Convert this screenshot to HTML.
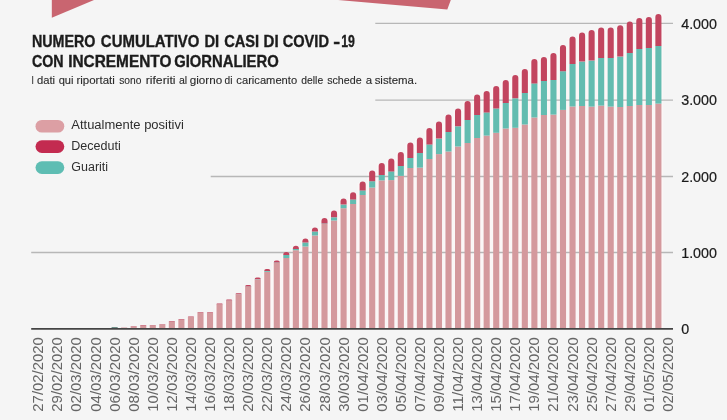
<!DOCTYPE html>
<html lang="it"><head><meta charset="utf-8"><title>Numero cumulativo di casi di COVID-19</title>
<style>
html,body{margin:0;padding:0;background:#f5f5f5;}
body{width:727px;height:420px;overflow:hidden;font-family:"Liberation Sans",sans-serif;}
svg{display:block;overflow:visible;filter:blur(0.3px);}
.t{font-family:"Liberation Sans",sans-serif;font-weight:bold;fill:#1c1c1c;stroke:#1c1c1c;stroke-width:0.35px;}
.s{font-family:"Liberation Sans",sans-serif;fill:#2b2b2b;stroke:#2b2b2b;stroke-width:0.12px;}
.l{font-family:"Liberation Sans",sans-serif;fill:#2e2e2e;}
.y{font-family:"Liberation Sans",sans-serif;fill:#1a1a1a;font-size:14.3px;stroke:#1a1a1a;stroke-width:0.2px;}
.x{font-family:"Liberation Sans",sans-serif;fill:#666;font-size:15.5px;}
</style></head><body>
<svg width="727" height="420" viewBox="0 0 727 420">
<rect x="-10" y="-10" width="747" height="440" fill="#f5f5f5"/>

<polygon points="51.8,-6 51.8,17.8 94,0 108.2,-6" fill="#c96570"/>
<polygon points="268.2,-6 338,0 447.3,9.4 450.8,0 453,-6" fill="#c96570"/>
<rect x="128.85" y="327.50" width="9.70" height="1.50" fill="#fbf7f7"/>
<rect x="138.39" y="326.60" width="9.70" height="2.40" fill="#fbf7f7"/>
<rect x="147.93" y="326.40" width="9.70" height="2.60" fill="#fbf7f7"/>
<rect x="157.47" y="325.50" width="9.70" height="3.50" fill="#fbf7f7"/>
<rect x="167.01" y="322.50" width="9.70" height="6.50" fill="#fbf7f7"/>
<rect x="176.55" y="320.50" width="9.70" height="8.50" fill="#fbf7f7"/>
<rect x="186.09" y="318.10" width="9.70" height="10.90" fill="#fbf7f7"/>
<rect x="195.63" y="313.50" width="9.70" height="15.50" fill="#fbf7f7"/>
<rect x="205.17" y="313.50" width="9.70" height="15.50" fill="#fbf7f7"/>
<rect x="214.71" y="305.10" width="9.70" height="23.90" fill="#fbf7f7"/>
<rect x="224.25" y="301.00" width="9.70" height="28.00" fill="#fbf7f7"/>
<rect x="233.79" y="294.80" width="9.70" height="34.20" fill="#fbf7f7"/>
<rect x="243.33" y="286.50" width="9.70" height="42.50" fill="#fbf7f7"/>
<rect x="252.87" y="279.00" width="9.70" height="50.00" fill="#fbf7f7"/>
<rect x="262.41" y="270.60" width="9.70" height="58.40" fill="#fbf7f7"/>
<rect x="271.95" y="261.90" width="9.70" height="67.10" fill="#fbf7f7"/>
<rect x="281.49" y="253.60" width="9.70" height="75.40" fill="#fbf7f7"/>
<rect x="291.03" y="247.20" width="9.70" height="81.80" fill="#fbf7f7"/>
<rect x="300.57" y="240.00" width="9.70" height="89.00" fill="#fbf7f7"/>
<rect x="310.11" y="229.00" width="9.70" height="100.00" fill="#fbf7f7"/>
<rect x="319.65" y="219.40" width="9.70" height="109.60" fill="#fbf7f7"/>
<rect x="329.19" y="212.10" width="9.70" height="116.90" fill="#fbf7f7"/>
<rect x="338.73" y="199.90" width="9.70" height="129.10" fill="#fbf7f7"/>
<rect x="348.27" y="193.70" width="9.70" height="135.30" fill="#fbf7f7"/>
<rect x="357.81" y="183.00" width="9.70" height="146.00" fill="#fbf7f7"/>
<rect x="367.35" y="171.90" width="9.70" height="157.10" fill="#fbf7f7"/>
<rect x="376.89" y="164.50" width="9.70" height="164.50" fill="#fbf7f7"/>
<rect x="386.43" y="159.90" width="9.70" height="169.10" fill="#fbf7f7"/>
<rect x="395.97" y="153.50" width="9.70" height="175.50" fill="#fbf7f7"/>
<rect x="405.51" y="143.90" width="9.70" height="185.10" fill="#fbf7f7"/>
<rect x="415.05" y="138.90" width="9.70" height="190.10" fill="#fbf7f7"/>
<rect x="424.59" y="129.50" width="9.70" height="199.50" fill="#fbf7f7"/>
<rect x="434.13" y="123.10" width="9.70" height="205.90" fill="#fbf7f7"/>
<rect x="443.67" y="115.90" width="9.70" height="213.10" fill="#fbf7f7"/>
<rect x="453.21" y="110.00" width="9.70" height="219.00" fill="#fbf7f7"/>
<rect x="462.75" y="102.50" width="9.70" height="226.50" fill="#fbf7f7"/>
<rect x="472.29" y="96.10" width="9.70" height="232.90" fill="#fbf7f7"/>
<rect x="481.83" y="92.50" width="9.70" height="236.50" fill="#fbf7f7"/>
<rect x="491.37" y="87.50" width="9.70" height="241.50" fill="#fbf7f7"/>
<rect x="500.91" y="81.50" width="9.70" height="247.50" fill="#fbf7f7"/>
<rect x="510.45" y="76.50" width="9.70" height="252.50" fill="#fbf7f7"/>
<rect x="519.99" y="70.50" width="9.70" height="258.50" fill="#fbf7f7"/>
<rect x="529.53" y="60.50" width="9.70" height="268.50" fill="#fbf7f7"/>
<rect x="539.07" y="58.50" width="9.70" height="270.50" fill="#fbf7f7"/>
<rect x="548.61" y="54.50" width="9.70" height="274.50" fill="#fbf7f7"/>
<rect x="558.15" y="46.50" width="9.70" height="282.50" fill="#fbf7f7"/>
<rect x="567.69" y="37.90" width="9.70" height="291.10" fill="#fbf7f7"/>
<rect x="577.23" y="34.10" width="9.70" height="294.90" fill="#fbf7f7"/>
<rect x="586.77" y="31.50" width="9.70" height="297.50" fill="#fbf7f7"/>
<rect x="596.31" y="29.10" width="9.70" height="299.90" fill="#fbf7f7"/>
<rect x="605.85" y="29.10" width="9.70" height="299.90" fill="#fbf7f7"/>
<rect x="615.39" y="26.70" width="9.70" height="302.30" fill="#fbf7f7"/>
<rect x="624.93" y="23.10" width="9.70" height="305.90" fill="#fbf7f7"/>
<rect x="634.47" y="19.50" width="9.70" height="309.50" fill="#fbf7f7"/>
<rect x="644.01" y="18.50" width="9.70" height="310.50" fill="#fbf7f7"/>
<rect x="653.55" y="15.60" width="9.70" height="313.40" fill="#fbf7f7"/>
<line x1="375.3" y1="23.3" x2="673" y2="23.3" stroke="#b7b7b7" stroke-width="1.3"/>
<line x1="375.3" y1="100.1" x2="673" y2="100.1" stroke="#b7b7b7" stroke-width="1.3"/>
<line x1="210.7" y1="176.5" x2="673" y2="176.5" stroke="#b7b7b7" stroke-width="1.3"/>
<line x1="31.2" y1="252.5" x2="673" y2="252.5" stroke="#b7b7b7" stroke-width="1.3"/>
<rect x="111.57" y="327.00" width="6.10" height="2.00" fill="#6f8f89"/>
<rect x="121.11" y="327.50" width="6.10" height="1.50" fill="#d4999d"/>
<rect x="130.65" y="326.30" width="6.10" height="2.70" fill="#d4999d"/>
<path d="M130.65 326.30 V326.30 A0.30 0.30 0 0 1 130.95 326.00 H136.45 A0.30 0.30 0 0 1 136.75 326.30 V326.30 Z" fill="#c2455f"/>
<rect x="140.19" y="325.40" width="6.10" height="3.60" fill="#d4999d"/>
<path d="M140.19 325.40 V325.40 A0.30 0.30 0 0 1 140.49 325.10 H145.99 A0.30 0.30 0 0 1 146.29 325.40 V325.40 Z" fill="#c2455f"/>
<rect x="149.73" y="325.20" width="6.10" height="3.80" fill="#d4999d"/>
<path d="M149.73 325.20 V325.20 A0.30 0.30 0 0 1 150.03 324.90 H155.53 A0.30 0.30 0 0 1 155.83 325.20 V325.20 Z" fill="#c2455f"/>
<rect x="159.27" y="324.30" width="6.10" height="4.70" fill="#d4999d"/>
<path d="M159.27 324.30 V324.30 A0.30 0.30 0 0 1 159.57 324.00 H165.07 A0.30 0.30 0 0 1 165.37 324.30 V324.30 Z" fill="#c2455f"/>
<rect x="168.81" y="321.40" width="6.10" height="7.60" fill="#d4999d"/>
<path d="M168.81 321.40 V321.40 A0.40 0.40 0 0 1 169.21 321.00 H174.51 A0.40 0.40 0 0 1 174.91 321.40 V321.40 Z" fill="#c2455f"/>
<rect x="178.35" y="319.40" width="6.10" height="9.60" fill="#d4999d"/>
<path d="M178.35 319.40 V319.40 A0.40 0.40 0 0 1 178.75 319.00 H184.05 A0.40 0.40 0 0 1 184.45 319.40 V319.40 Z" fill="#c2455f"/>
<rect x="187.89" y="317.00" width="6.10" height="12.00" fill="#d4999d"/>
<path d="M187.89 317.00 V317.00 A0.40 0.40 0 0 1 188.29 316.60 H193.59 A0.40 0.40 0 0 1 193.99 317.00 V317.00 Z" fill="#c2455f"/>
<rect x="197.43" y="312.50" width="6.10" height="16.50" fill="#d4999d"/>
<path d="M197.43 312.50 V312.50 A0.50 0.50 0 0 1 197.93 312.00 H203.03 A0.50 0.50 0 0 1 203.53 312.50 V312.50 Z" fill="#c2455f"/>
<rect x="206.97" y="312.50" width="6.10" height="16.50" fill="#d4999d"/>
<path d="M206.97 312.50 V312.50 A0.50 0.50 0 0 1 207.47 312.00 H212.57 A0.50 0.50 0 0 1 213.07 312.50 V312.50 Z" fill="#c2455f"/>
<rect x="216.51" y="304.20" width="6.10" height="24.80" fill="#d4999d"/>
<path d="M216.51 304.20 V304.20 A0.60 0.60 0 0 1 217.11 303.60 H222.01 A0.60 0.60 0 0 1 222.61 304.20 V304.20 Z" fill="#c2455f"/>
<rect x="226.05" y="300.60" width="6.10" height="28.40" fill="#d4999d"/>
<rect x="226.05" y="300.50" width="6.10" height="0.10" fill="#63bcb0"/>
<path d="M226.05 300.50 V300.50 A1.00 1.00 0 0 1 227.05 299.50 H231.15 A1.00 1.00 0 0 1 232.15 300.50 V300.50 Z" fill="#c2455f"/>
<rect x="235.59" y="294.40" width="6.10" height="34.60" fill="#d4999d"/>
<rect x="235.59" y="294.30" width="6.10" height="0.10" fill="#63bcb0"/>
<path d="M235.59 294.30 V294.30 A1.00 1.00 0 0 1 236.59 293.30 H240.69 A1.00 1.00 0 0 1 241.69 294.30 V294.30 Z" fill="#c2455f"/>
<rect x="245.13" y="286.70" width="6.10" height="42.30" fill="#d4999d"/>
<rect x="245.13" y="286.50" width="6.10" height="0.20" fill="#63bcb0"/>
<path d="M245.13 286.50 V286.50 A1.50 1.50 0 0 1 246.63 285.00 H249.73 A1.50 1.50 0 0 1 251.23 286.50 V286.50 Z" fill="#c2455f"/>
<rect x="254.67" y="279.60" width="6.10" height="49.40" fill="#d4999d"/>
<rect x="254.67" y="279.30" width="6.10" height="0.30" fill="#63bcb0"/>
<path d="M254.67 279.30 V279.30 A1.80 1.80 0 0 1 256.47 277.50 H258.97 A1.80 1.80 0 0 1 260.77 279.30 V279.30 Z" fill="#c2455f"/>
<rect x="264.21" y="271.90" width="6.10" height="57.10" fill="#d4999d"/>
<rect x="264.21" y="271.10" width="6.10" height="0.80" fill="#63bcb0"/>
<path d="M264.21 271.10 V271.10 A2.00 2.00 0 0 1 266.21 269.10 H268.31 A2.00 2.00 0 0 1 270.31 271.10 V271.10 Z" fill="#c2455f"/>
<rect x="273.75" y="262.90" width="6.10" height="66.10" fill="#d4999d"/>
<rect x="273.75" y="262.50" width="6.10" height="0.40" fill="#63bcb0"/>
<path d="M273.75 262.50 V262.50 A2.10 2.10 0 0 1 275.85 260.40 H277.75 A2.10 2.10 0 0 1 279.85 262.50 V262.50 Z" fill="#c2455f"/>
<rect x="283.29" y="258.00" width="6.10" height="71.00" fill="#d4999d"/>
<rect x="283.29" y="254.90" width="6.10" height="3.10" fill="#63bcb0"/>
<path d="M283.29 254.90 V254.90 A2.80 2.80 0 0 1 286.09 252.10 H286.59 A2.80 2.80 0 0 1 289.39 254.90 V254.90 Z" fill="#c2455f"/>
<rect x="292.83" y="250.20" width="6.10" height="78.80" fill="#d4999d"/>
<rect x="292.83" y="249.00" width="6.10" height="1.20" fill="#63bcb0"/>
<path d="M292.83 249.00 V248.75 A3.05 3.05 0 0 1 295.88 245.70 H295.88 A3.05 3.05 0 0 1 298.93 248.75 V249.00 Z" fill="#c2455f"/>
<rect x="302.37" y="246.50" width="6.10" height="82.50" fill="#d4999d"/>
<rect x="302.37" y="242.50" width="6.10" height="4.00" fill="#63bcb0"/>
<path d="M302.37 242.50 V241.55 A3.05 3.05 0 0 1 305.42 238.50 H305.42 A3.05 3.05 0 0 1 308.47 241.55 V242.50 Z" fill="#c2455f"/>
<rect x="311.91" y="235.50" width="6.10" height="93.50" fill="#d4999d"/>
<rect x="311.91" y="231.50" width="6.10" height="4.00" fill="#63bcb0"/>
<path d="M311.91 231.50 V230.55 A3.05 3.05 0 0 1 314.96 227.50 H314.96 A3.05 3.05 0 0 1 318.01 230.55 V231.50 Z" fill="#c2455f"/>
<rect x="321.45" y="224.00" width="6.10" height="105.00" fill="#d4999d"/>
<rect x="321.45" y="223.50" width="6.10" height="0.50" fill="#63bcb0"/>
<path d="M321.45 223.50 V220.95 A3.05 3.05 0 0 1 324.50 217.90 H324.50 A3.05 3.05 0 0 1 327.55 220.95 V223.50 Z" fill="#c2455f"/>
<rect x="330.99" y="220.50" width="6.10" height="108.50" fill="#d4999d"/>
<rect x="330.99" y="217.30" width="6.10" height="3.20" fill="#63bcb0"/>
<path d="M330.99 217.30 V213.65 A3.05 3.05 0 0 1 334.04 210.60 H334.04 A3.05 3.05 0 0 1 337.09 213.65 V217.30 Z" fill="#c2455f"/>
<rect x="340.53" y="208.20" width="6.10" height="120.80" fill="#d4999d"/>
<rect x="340.53" y="204.60" width="6.10" height="3.60" fill="#63bcb0"/>
<path d="M340.53 204.60 V201.45 A3.05 3.05 0 0 1 343.58 198.40 H343.58 A3.05 3.05 0 0 1 346.63 201.45 V204.60 Z" fill="#c2455f"/>
<rect x="350.07" y="204.00" width="6.10" height="125.00" fill="#d4999d"/>
<rect x="350.07" y="199.40" width="6.10" height="4.60" fill="#63bcb0"/>
<path d="M350.07 199.40 V195.25 A3.05 3.05 0 0 1 353.12 192.20 H353.12 A3.05 3.05 0 0 1 356.17 195.25 V199.40 Z" fill="#c2455f"/>
<rect x="359.61" y="195.00" width="6.10" height="134.00" fill="#d4999d"/>
<rect x="359.61" y="190.40" width="6.10" height="4.60" fill="#63bcb0"/>
<path d="M359.61 190.40 V184.55 A3.05 3.05 0 0 1 362.66 181.50 H362.66 A3.05 3.05 0 0 1 365.71 184.55 V190.40 Z" fill="#c2455f"/>
<rect x="369.15" y="187.60" width="6.10" height="141.40" fill="#d4999d"/>
<rect x="369.15" y="181.20" width="6.10" height="6.40" fill="#63bcb0"/>
<path d="M369.15 181.20 V173.45 A3.05 3.05 0 0 1 372.20 170.40 H372.20 A3.05 3.05 0 0 1 375.25 173.45 V181.20 Z" fill="#c2455f"/>
<rect x="378.69" y="180.40" width="6.10" height="148.60" fill="#d4999d"/>
<rect x="378.69" y="175.00" width="6.10" height="5.40" fill="#63bcb0"/>
<path d="M378.69 175.00 V166.05 A3.05 3.05 0 0 1 381.74 163.00 H381.74 A3.05 3.05 0 0 1 384.79 166.05 V175.00 Z" fill="#c2455f"/>
<rect x="388.23" y="180.10" width="6.10" height="148.90" fill="#d4999d"/>
<rect x="388.23" y="171.40" width="6.10" height="8.70" fill="#63bcb0"/>
<path d="M388.23 171.40 V161.45 A3.05 3.05 0 0 1 391.28 158.40 H391.28 A3.05 3.05 0 0 1 394.33 161.45 V171.40 Z" fill="#c2455f"/>
<rect x="397.77" y="175.90" width="6.10" height="153.10" fill="#d4999d"/>
<rect x="397.77" y="166.00" width="6.10" height="9.90" fill="#63bcb0"/>
<path d="M397.77 166.00 V155.05 A3.05 3.05 0 0 1 400.82 152.00 H400.82 A3.05 3.05 0 0 1 403.87 155.05 V166.00 Z" fill="#c2455f"/>
<rect x="407.31" y="168.00" width="6.10" height="161.00" fill="#d4999d"/>
<rect x="407.31" y="158.00" width="6.10" height="10.00" fill="#63bcb0"/>
<path d="M407.31 158.00 V145.45 A3.05 3.05 0 0 1 410.36 142.40 H410.36 A3.05 3.05 0 0 1 413.41 145.45 V158.00 Z" fill="#c2455f"/>
<rect x="416.85" y="167.60" width="6.10" height="161.40" fill="#d4999d"/>
<rect x="416.85" y="153.00" width="6.10" height="14.60" fill="#63bcb0"/>
<path d="M416.85 153.00 V140.45 A3.05 3.05 0 0 1 419.90 137.40 H419.90 A3.05 3.05 0 0 1 422.95 140.45 V153.00 Z" fill="#c2455f"/>
<rect x="426.39" y="159.00" width="6.10" height="170.00" fill="#d4999d"/>
<rect x="426.39" y="144.40" width="6.10" height="14.60" fill="#63bcb0"/>
<path d="M426.39 144.40 V131.05 A3.05 3.05 0 0 1 429.44 128.00 H429.44 A3.05 3.05 0 0 1 432.49 131.05 V144.40 Z" fill="#c2455f"/>
<rect x="435.93" y="154.10" width="6.10" height="174.90" fill="#d4999d"/>
<rect x="435.93" y="138.60" width="6.10" height="15.50" fill="#63bcb0"/>
<path d="M435.93 138.60 V124.65 A3.05 3.05 0 0 1 438.98 121.60 H438.98 A3.05 3.05 0 0 1 442.03 124.65 V138.60 Z" fill="#c2455f"/>
<rect x="445.47" y="151.50" width="6.10" height="177.50" fill="#d4999d"/>
<rect x="445.47" y="132.00" width="6.10" height="19.50" fill="#63bcb0"/>
<path d="M445.47 132.00 V117.45 A3.05 3.05 0 0 1 448.52 114.40 H448.52 A3.05 3.05 0 0 1 451.57 117.45 V132.00 Z" fill="#c2455f"/>
<rect x="455.01" y="146.50" width="6.10" height="182.50" fill="#d4999d"/>
<rect x="455.01" y="126.30" width="6.10" height="20.20" fill="#63bcb0"/>
<path d="M455.01 126.30 V111.55 A3.05 3.05 0 0 1 458.06 108.50 H458.06 A3.05 3.05 0 0 1 461.11 111.55 V126.30 Z" fill="#c2455f"/>
<rect x="464.55" y="143.00" width="6.10" height="186.00" fill="#d4999d"/>
<rect x="464.55" y="120.00" width="6.10" height="23.00" fill="#63bcb0"/>
<path d="M464.55 120.00 V104.05 A3.05 3.05 0 0 1 467.60 101.00 H467.60 A3.05 3.05 0 0 1 470.65 104.05 V120.00 Z" fill="#c2455f"/>
<rect x="474.09" y="138.00" width="6.10" height="191.00" fill="#d4999d"/>
<rect x="474.09" y="115.00" width="6.10" height="23.00" fill="#63bcb0"/>
<path d="M474.09 115.00 V97.65 A3.05 3.05 0 0 1 477.14 94.60 H477.14 A3.05 3.05 0 0 1 480.19 97.65 V115.00 Z" fill="#c2455f"/>
<rect x="483.63" y="135.60" width="6.10" height="193.40" fill="#d4999d"/>
<rect x="483.63" y="112.40" width="6.10" height="23.20" fill="#63bcb0"/>
<path d="M483.63 112.40 V94.05 A3.05 3.05 0 0 1 486.68 91.00 H486.68 A3.05 3.05 0 0 1 489.73 94.05 V112.40 Z" fill="#c2455f"/>
<rect x="493.17" y="132.80" width="6.10" height="196.20" fill="#d4999d"/>
<rect x="493.17" y="108.50" width="6.10" height="24.30" fill="#63bcb0"/>
<path d="M493.17 108.50 V89.05 A3.05 3.05 0 0 1 496.22 86.00 H496.22 A3.05 3.05 0 0 1 499.27 89.05 V108.50 Z" fill="#c2455f"/>
<rect x="502.71" y="128.50" width="6.10" height="200.50" fill="#d4999d"/>
<rect x="502.71" y="103.00" width="6.10" height="25.50" fill="#63bcb0"/>
<path d="M502.71 103.00 V83.05 A3.05 3.05 0 0 1 505.76 80.00 H505.76 A3.05 3.05 0 0 1 508.81 83.05 V103.00 Z" fill="#c2455f"/>
<rect x="512.25" y="127.80" width="6.10" height="201.20" fill="#d4999d"/>
<rect x="512.25" y="98.30" width="6.10" height="29.50" fill="#63bcb0"/>
<path d="M512.25 98.30 V78.05 A3.05 3.05 0 0 1 515.30 75.00 H515.30 A3.05 3.05 0 0 1 518.35 78.05 V98.30 Z" fill="#c2455f"/>
<rect x="521.79" y="124.50" width="6.10" height="204.50" fill="#d4999d"/>
<rect x="521.79" y="93.00" width="6.10" height="31.50" fill="#63bcb0"/>
<path d="M521.79 93.00 V72.05 A3.05 3.05 0 0 1 524.84 69.00 H524.84 A3.05 3.05 0 0 1 527.89 72.05 V93.00 Z" fill="#c2455f"/>
<rect x="531.33" y="117.50" width="6.10" height="211.50" fill="#d4999d"/>
<rect x="531.33" y="83.40" width="6.10" height="34.10" fill="#63bcb0"/>
<path d="M531.33 83.40 V62.05 A3.05 3.05 0 0 1 534.38 59.00 H534.38 A3.05 3.05 0 0 1 537.43 62.05 V83.40 Z" fill="#c2455f"/>
<rect x="540.87" y="115.00" width="6.10" height="214.00" fill="#d4999d"/>
<rect x="540.87" y="81.00" width="6.10" height="34.00" fill="#63bcb0"/>
<path d="M540.87 81.00 V60.05 A3.05 3.05 0 0 1 543.92 57.00 H543.92 A3.05 3.05 0 0 1 546.97 60.05 V81.00 Z" fill="#c2455f"/>
<rect x="550.41" y="114.60" width="6.10" height="214.40" fill="#d4999d"/>
<rect x="550.41" y="80.00" width="6.10" height="34.60" fill="#63bcb0"/>
<path d="M550.41 80.00 V56.05 A3.05 3.05 0 0 1 553.46 53.00 H553.46 A3.05 3.05 0 0 1 556.51 56.05 V80.00 Z" fill="#c2455f"/>
<rect x="559.95" y="109.90" width="6.10" height="219.10" fill="#d4999d"/>
<rect x="559.95" y="71.20" width="6.10" height="38.70" fill="#63bcb0"/>
<path d="M559.95 71.20 V48.05 A3.05 3.05 0 0 1 563.00 45.00 H563.00 A3.05 3.05 0 0 1 566.05 48.05 V71.20 Z" fill="#c2455f"/>
<rect x="569.49" y="106.50" width="6.10" height="222.50" fill="#d4999d"/>
<rect x="569.49" y="64.00" width="6.10" height="42.50" fill="#63bcb0"/>
<path d="M569.49 64.00 V39.45 A3.05 3.05 0 0 1 572.54 36.40 H572.54 A3.05 3.05 0 0 1 575.59 39.45 V64.00 Z" fill="#c2455f"/>
<rect x="579.03" y="106.00" width="6.10" height="223.00" fill="#d4999d"/>
<rect x="579.03" y="61.60" width="6.10" height="44.40" fill="#63bcb0"/>
<path d="M579.03 61.60 V35.65 A3.05 3.05 0 0 1 582.08 32.60 H582.08 A3.05 3.05 0 0 1 585.13 35.65 V61.60 Z" fill="#c2455f"/>
<rect x="588.57" y="106.60" width="6.10" height="222.40" fill="#d4999d"/>
<rect x="588.57" y="60.60" width="6.10" height="46.00" fill="#63bcb0"/>
<path d="M588.57 60.60 V33.05 A3.05 3.05 0 0 1 591.62 30.00 H591.62 A3.05 3.05 0 0 1 594.67 33.05 V60.60 Z" fill="#c2455f"/>
<rect x="598.11" y="105.60" width="6.10" height="223.40" fill="#d4999d"/>
<rect x="598.11" y="58.00" width="6.10" height="47.60" fill="#63bcb0"/>
<path d="M598.11 58.00 V30.65 A3.05 3.05 0 0 1 601.16 27.60 H601.16 A3.05 3.05 0 0 1 604.21 30.65 V58.00 Z" fill="#c2455f"/>
<rect x="607.65" y="106.60" width="6.10" height="222.40" fill="#d4999d"/>
<rect x="607.65" y="58.00" width="6.10" height="48.60" fill="#63bcb0"/>
<path d="M607.65 58.00 V30.65 A3.05 3.05 0 0 1 610.70 27.60 H610.70 A3.05 3.05 0 0 1 613.75 30.65 V58.00 Z" fill="#c2455f"/>
<rect x="617.19" y="107.00" width="6.10" height="222.00" fill="#d4999d"/>
<rect x="617.19" y="56.60" width="6.10" height="50.40" fill="#63bcb0"/>
<path d="M617.19 56.60 V28.25 A3.05 3.05 0 0 1 620.24 25.20 H620.24 A3.05 3.05 0 0 1 623.29 28.25 V56.60 Z" fill="#c2455f"/>
<rect x="626.73" y="106.00" width="6.10" height="223.00" fill="#d4999d"/>
<rect x="626.73" y="53.00" width="6.10" height="53.00" fill="#63bcb0"/>
<path d="M626.73 53.00 V24.65 A3.05 3.05 0 0 1 629.78 21.60 H629.78 A3.05 3.05 0 0 1 632.83 24.65 V53.00 Z" fill="#c2455f"/>
<rect x="636.27" y="105.00" width="6.10" height="224.00" fill="#d4999d"/>
<rect x="636.27" y="49.00" width="6.10" height="56.00" fill="#63bcb0"/>
<path d="M636.27 49.00 V21.05 A3.05 3.05 0 0 1 639.32 18.00 H639.32 A3.05 3.05 0 0 1 642.37 21.05 V49.00 Z" fill="#c2455f"/>
<rect x="645.81" y="105.00" width="6.10" height="224.00" fill="#d4999d"/>
<rect x="645.81" y="48.00" width="6.10" height="57.00" fill="#63bcb0"/>
<path d="M645.81 48.00 V20.05 A3.05 3.05 0 0 1 648.86 17.00 H648.86 A3.05 3.05 0 0 1 651.91 20.05 V48.00 Z" fill="#c2455f"/>
<rect x="655.35" y="103.60" width="6.10" height="225.40" fill="#d4999d"/>
<rect x="655.35" y="45.90" width="6.10" height="57.70" fill="#63bcb0"/>
<path d="M655.35 45.90 V17.15 A3.05 3.05 0 0 1 658.40 14.10 H658.40 A3.05 3.05 0 0 1 661.45 17.15 V45.90 Z" fill="#c2455f"/>
<line x1="31.2" y1="328.8" x2="673" y2="328.8" stroke="#444" stroke-width="1.65"/>
<text class="y" x="681.2" y="28.5">4.000</text>
<text class="y" x="681.2" y="105.3">3.000</text>
<text class="y" x="681.2" y="181.7">2.000</text>
<text class="y" x="681.2" y="257.7">1.000</text>
<text class="y" x="681.2" y="334.0">0</text>
<text class="x" transform="translate(43.30,411.7) rotate(-90)" textLength="74.6" lengthAdjust="spacingAndGlyphs">27/02/2020</text>
<text class="x" transform="translate(62.38,411.7) rotate(-90)" textLength="74.6" lengthAdjust="spacingAndGlyphs">29/02/2020</text>
<text class="x" transform="translate(81.46,411.7) rotate(-90)" textLength="74.6" lengthAdjust="spacingAndGlyphs">02/03/2020</text>
<text class="x" transform="translate(100.54,411.7) rotate(-90)" textLength="74.6" lengthAdjust="spacingAndGlyphs">04/03/2020</text>
<text class="x" transform="translate(119.62,411.7) rotate(-90)" textLength="74.6" lengthAdjust="spacingAndGlyphs">06/03/2020</text>
<text class="x" transform="translate(138.70,411.7) rotate(-90)" textLength="74.6" lengthAdjust="spacingAndGlyphs">08/03/2020</text>
<text class="x" transform="translate(157.78,411.7) rotate(-90)" textLength="74.6" lengthAdjust="spacingAndGlyphs">10/03/2020</text>
<text class="x" transform="translate(176.86,411.7) rotate(-90)" textLength="74.6" lengthAdjust="spacingAndGlyphs">12/03/2020</text>
<text class="x" transform="translate(195.94,411.7) rotate(-90)" textLength="74.6" lengthAdjust="spacingAndGlyphs">14/03/2020</text>
<text class="x" transform="translate(215.02,411.7) rotate(-90)" textLength="74.6" lengthAdjust="spacingAndGlyphs">16/03/2020</text>
<text class="x" transform="translate(234.10,411.7) rotate(-90)" textLength="74.6" lengthAdjust="spacingAndGlyphs">18/03/2020</text>
<text class="x" transform="translate(253.18,411.7) rotate(-90)" textLength="74.6" lengthAdjust="spacingAndGlyphs">20/03/2020</text>
<text class="x" transform="translate(272.26,411.7) rotate(-90)" textLength="74.6" lengthAdjust="spacingAndGlyphs">22/03/2020</text>
<text class="x" transform="translate(291.34,411.7) rotate(-90)" textLength="74.6" lengthAdjust="spacingAndGlyphs">24/03/2020</text>
<text class="x" transform="translate(310.42,411.7) rotate(-90)" textLength="74.6" lengthAdjust="spacingAndGlyphs">26/03/2020</text>
<text class="x" transform="translate(329.50,411.7) rotate(-90)" textLength="74.6" lengthAdjust="spacingAndGlyphs">28/03/2020</text>
<text class="x" transform="translate(348.58,411.7) rotate(-90)" textLength="74.6" lengthAdjust="spacingAndGlyphs">30/03/2020</text>
<text class="x" transform="translate(367.66,411.7) rotate(-90)" textLength="74.6" lengthAdjust="spacingAndGlyphs">01/04/2020</text>
<text class="x" transform="translate(386.74,411.7) rotate(-90)" textLength="74.6" lengthAdjust="spacingAndGlyphs">03/04/2020</text>
<text class="x" transform="translate(405.82,411.7) rotate(-90)" textLength="74.6" lengthAdjust="spacingAndGlyphs">05/04/2020</text>
<text class="x" transform="translate(424.90,411.7) rotate(-90)" textLength="74.6" lengthAdjust="spacingAndGlyphs">07/04/2020</text>
<text class="x" transform="translate(443.98,411.7) rotate(-90)" textLength="74.6" lengthAdjust="spacingAndGlyphs">09/04/2020</text>
<text class="x" transform="translate(463.06,411.7) rotate(-90)" textLength="74.6" lengthAdjust="spacingAndGlyphs">11/04/2020</text>
<text class="x" transform="translate(482.14,411.7) rotate(-90)" textLength="74.6" lengthAdjust="spacingAndGlyphs">13/04/2020</text>
<text class="x" transform="translate(501.22,411.7) rotate(-90)" textLength="74.6" lengthAdjust="spacingAndGlyphs">15/04/2020</text>
<text class="x" transform="translate(520.30,411.7) rotate(-90)" textLength="74.6" lengthAdjust="spacingAndGlyphs">17/04/2020</text>
<text class="x" transform="translate(539.38,411.7) rotate(-90)" textLength="74.6" lengthAdjust="spacingAndGlyphs">19/04/2020</text>
<text class="x" transform="translate(558.46,411.7) rotate(-90)" textLength="74.6" lengthAdjust="spacingAndGlyphs">21/04/2020</text>
<text class="x" transform="translate(577.54,411.7) rotate(-90)" textLength="74.6" lengthAdjust="spacingAndGlyphs">23/04/2020</text>
<text class="x" transform="translate(596.62,411.7) rotate(-90)" textLength="74.6" lengthAdjust="spacingAndGlyphs">25/04/2020</text>
<text class="x" transform="translate(615.70,411.7) rotate(-90)" textLength="74.6" lengthAdjust="spacingAndGlyphs">27/04/2020</text>
<text class="x" transform="translate(634.78,411.7) rotate(-90)" textLength="74.6" lengthAdjust="spacingAndGlyphs">29/04/2020</text>
<text class="x" transform="translate(653.86,411.7) rotate(-90)" textLength="74.6" lengthAdjust="spacingAndGlyphs">01/05/2020</text>
<text class="x" transform="translate(672.94,411.7) rotate(-90)" textLength="74.6" lengthAdjust="spacingAndGlyphs">02/05/2020</text>
<text class="t" x="31.95" y="46.60" font-size="15.9" textLength="63.55" lengthAdjust="spacingAndGlyphs">NUMERO</text>
<text class="t" x="100.85" y="46.60" font-size="15.9" textLength="98.55" lengthAdjust="spacingAndGlyphs">CUMULATIVO</text>
<text class="t" x="204.45" y="46.60" font-size="15.9" textLength="14.75" lengthAdjust="spacingAndGlyphs">DI</text>
<text class="t" x="224.20" y="46.60" font-size="15.9" textLength="35.00" lengthAdjust="spacingAndGlyphs">CASI</text>
<text class="t" x="263.55" y="46.60" font-size="15.9" textLength="15.05" lengthAdjust="spacingAndGlyphs">DI</text>
<text class="t" x="282.65" y="46.60" font-size="15.9" textLength="46.35" lengthAdjust="spacingAndGlyphs">COVID</text>
<text class="t" x="333.35" y="46.60" font-size="15.9" textLength="6.85" lengthAdjust="spacingAndGlyphs">-</text>
<text class="t" x="341.15" y="46.60" font-size="15.9" textLength="13.65" lengthAdjust="spacingAndGlyphs">19</text>
<text class="t" x="31.95" y="66.85" font-size="15.9" textLength="31.65" lengthAdjust="spacingAndGlyphs">CON</text>
<text class="t" x="68.15" y="66.85" font-size="15.9" textLength="103.35" lengthAdjust="spacingAndGlyphs">INCREMENTO</text>
<text class="t" x="174.15" y="66.85" font-size="15.9" textLength="104.55" lengthAdjust="spacingAndGlyphs">GIORNALIERO</text>
<text class="s" x="31.45" y="83.75" font-size="11.7" textLength="2.35" lengthAdjust="spacingAndGlyphs">I</text>
<text class="s" x="36.95" y="83.75" font-size="11.7" textLength="18.10" lengthAdjust="spacingAndGlyphs">dati</text>
<text class="s" x="58.70" y="83.75" font-size="11.7" textLength="14.85" lengthAdjust="spacingAndGlyphs">qui</text>
<text class="s" x="76.45" y="83.75" font-size="11.7" textLength="38.35" lengthAdjust="spacingAndGlyphs">riportati</text>
<text class="s" x="119.25" y="83.75" font-size="11.7" textLength="22.20" lengthAdjust="spacingAndGlyphs">sono</text>
<text class="s" x="145.70" y="83.75" font-size="11.7" textLength="29.85" lengthAdjust="spacingAndGlyphs">riferiti</text>
<text class="s" x="178.95" y="83.75" font-size="11.7" textLength="8.20" lengthAdjust="spacingAndGlyphs">al</text>
<text class="s" x="189.75" y="83.75" font-size="11.7" textLength="32.40" lengthAdjust="spacingAndGlyphs">giorno</text>
<text class="s" x="224.55" y="83.75" font-size="11.7" textLength="7.90" lengthAdjust="spacingAndGlyphs">di</text>
<text class="s" x="236.35" y="83.75" font-size="11.7" textLength="60.80" lengthAdjust="spacingAndGlyphs">caricamento</text>
<text class="s" x="301.35" y="83.75" font-size="11.7" textLength="21.80" lengthAdjust="spacingAndGlyphs">delle</text>
<text class="s" x="327.15" y="83.75" font-size="11.7" textLength="34.50" lengthAdjust="spacingAndGlyphs">schede</text>
<text class="s" x="365.75" y="83.75" font-size="11.7" textLength="6.40" lengthAdjust="spacingAndGlyphs">a</text>
<text class="s" x="374.65" y="83.75" font-size="11.7" textLength="42.50" lengthAdjust="spacingAndGlyphs">sistema.</text>
<rect x="35.5" y="120.0" width="28.8" height="12.6" rx="6.3" ry="6.3" fill="#dc9fa4"/>
<text class="l" x="71.3" y="129.3" font-size="12.3" textLength="112.5" lengthAdjust="spacingAndGlyphs">Attualmente positivi</text>
<rect x="35.5" y="140.3" width="28.8" height="12.6" rx="6.3" ry="6.3" fill="#c32b50"/>
<text class="l" x="71.3" y="150.0" font-size="12.3" textLength="49.5" lengthAdjust="spacingAndGlyphs">Deceduti</text>
<rect x="35.5" y="161.3" width="28.8" height="12.6" rx="6.3" ry="6.3" fill="#5ebdb3"/>
<text class="l" x="71.3" y="170.5" font-size="12.3" textLength="36.8" lengthAdjust="spacingAndGlyphs">Guariti</text>
</svg>
</body></html>
